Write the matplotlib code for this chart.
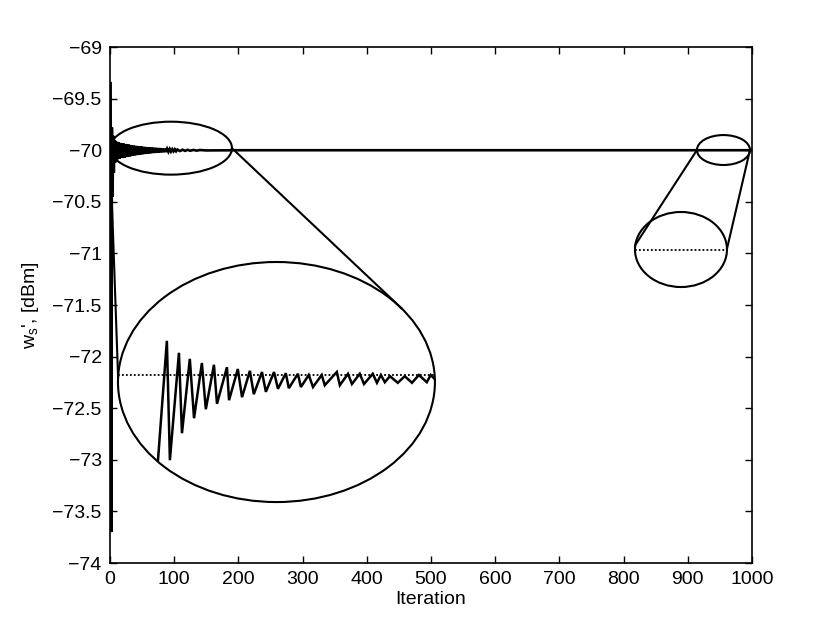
import numpy as np
import matplotlib.pyplot as plt
import matplotlib as mpl
from matplotlib.patches import Ellipse

mpl.rcParams['font.family'] = ['Liberation Sans', 'DejaVu Sans']
mpl.rcParams['xtick.direction'] = 'in'
mpl.rcParams['ytick.direction'] = 'in'
fontsize = 14
mpl.rcParams['font.size'] = fontsize
mpl.rcParams['axes.labelsize'] = fontsize
mpl.rcParams['xtick.labelsize'] = fontsize
mpl.rcParams['ytick.labelsize'] = fontsize

# main curve (turning points)
iters = [1, 2, 3, 4, 5, 6, 7, 8,
         9, 11, 13, 15, 17, 19, 21, 23, 25, 27, 29, 31, 33, 35, 37, 39,
         41, 43, 45, 47, 49, 51, 53, 55, 57, 59, 61, 63, 65, 67, 69, 71,
         73, 75, 77, 79, 81, 83, 85, 87, 89, 91, 93, 95, 97, 99, 101, 103,
         105, 109, 113, 117, 121, 125, 130, 135, 140, 150, 200, 1000]
ws = [-69.35, -73.70, -69.78, -70.45, -69.86, -70.22, -69.90, -70.12,
      -69.91, -70.09, -69.92, -70.08, -69.93, -70.075, -69.935, -70.07,
      -69.94, -70.065, -69.945, -70.06, -69.95, -70.055, -69.955, -70.05,
      -69.958, -70.046, -69.961, -70.042, -69.964, -70.039, -69.967, -70.036,
      -69.97, -70.033, -69.972, -70.03, -69.974, -70.027, -69.976, -70.025,
      -69.978, -70.023, -69.98, -70.021, -69.982, -70.019, -69.984, -70.017,
      -69.986, -70.015, -69.988, -70.013, -69.99, -70.011, -69.991, -70.01,
      -69.993, -70.008, -69.995, -70.006, -69.996, -70.005, -69.997, -70.004,
      -69.998, -70.002, -70.0, -70.0]
target = -70.0

# magnified view shown in the big left ellipse
zoom_iters = [12, 16.2, 17.2, 20.2, 21.2, 23.8, 25.2, 27.8, 29.1, 31.8,
              32.8, 36.1, 36.8, 39.7, 41.1, 43.7, 45.0, 47.7, 49.0, 51.7,
              53.0, 55.6, 56.6, 59.6, 60.6, 63.2, 64.6, 67.5, 68.5, 72.5,
              73.5, 76.2, 77.5, 80.1, 81.5, 84.4, 85.8, 87.1, 88.4, 90.1,
              92.7, 95.0, 97.4, 99.7, 102.3, 103.6, 105.0]
zoom_ws = [-70.227, -69.943, -70.142, -69.963, -70.097, -69.973, -70.072, -69.98, -70.057, -69.983,
           -70.048, -69.987, -70.042, -69.99, -70.037, -69.993, -70.032, -69.995, -70.028, -69.995,
           -70.023, -69.997, -70.022, -69.998, -70.02, -70.0, -70.02, -70.0, -70.017, -69.995,
           -70.017, -69.998, -70.015, -69.998, -70.015, -69.998, -70.013, -70.0, -70.012, -70.002,
           -70.013, -70.002, -70.013, -70.0, -70.012, -70.0, -70.007]

# ellipses: (center x, center y, width, height) in data units
small_l = (95.0, -69.98, 190.0, 0.513)
big_l = (259.3, -72.246, 493.7, 2.326)
small_r = (955.6, -69.998, 82.6, 0.29)
big_r = (889.4, -70.962, 143.3, 0.727)


def ell_pt(e, deg):
    t = np.deg2rad(deg)
    return e[0] + e[2] / 2 * np.cos(t), e[1] + e[3] / 2 * np.sin(t)


def fmt(v, pos):
    return ('%g' % v).replace('-', '\u2212')


fig = plt.figure(figsize=(8.3, 6.27), dpi=100)
ax = fig.add_axes([0.1325, 0.102, 0.7735, 0.823])

ax.plot(iters, ws, color='k', lw=1.9, solid_joinstyle='miter')

ell_lw = 1.5
for e in (small_l, big_l, small_r, big_r):
    ax.add_patch(Ellipse((e[0], e[1]), e[2], e[3], fill=False, ec='k', lw=ell_lw, zorder=4))

# connector lines between the ellipses
for e1, a1, e2, a2 in [(small_l, 180, big_l, 177.7), (small_l, 0, big_l, 38),
                       (small_r, 180, big_r, 173), (small_r, 0, big_r, 1)]:
    p1 = ell_pt(e1, a1)
    p2 = ell_pt(e2, a2)
    ax.plot([p1[0], p2[0]], [p1[1], p2[1]], color='k', lw=ell_lw, zorder=4)

# left zoom
ins = ax.inset_axes([big_l[0] - big_l[2] / 2, big_l[1] - big_l[3] / 2, big_l[2], big_l[3]],
                    transform=ax.transData)
ins.axis('off')
ins.patch.set_alpha(0)
ins.set_xlim(0, 105)
ins.set_ylim(-70.2117, -69.8117)
clip = Ellipse((0.5, 0.5), 1, 1, transform=ins.transAxes)
l1 = ins.axhline(target, color='k', lw=1.3, linestyle=(0, (1, 1.2)))
l2, = ins.plot(zoom_iters, zoom_ws, color='k', lw=1.8, solid_joinstyle='miter')
for ln in (l1, l2):
    ln.set_clip_path(clip)

# right zoom
ins2 = ax.inset_axes([big_r[0] - big_r[2] / 2, big_r[1] - big_r[3] / 2, big_r[2], big_r[3]],
                     transform=ax.transData)
ins2.axis('off')
ins2.patch.set_alpha(0)
ins2.set_ylim(target - 0.5, target + 0.5)
clip2 = Ellipse((0.5, 0.5), 1, 1, transform=ins2.transAxes)
l3 = ins2.axhline(target, color='k', lw=1.3, linestyle=(0, (1, 1.2)))
l3.set_clip_path(clip2)

ax.set_xlim(0, 1000)
ax.set_ylim(-74, -69)
ax.set_xticks(np.arange(0, 1001, 100))
ax.set_yticks(np.arange(-74, -68.9, 0.5))
ax.yaxis.set_major_formatter(mpl.ticker.FuncFormatter(fmt))
ax.tick_params(top=True, right=True, length=5, width=1, pad=6)
for s in ax.spines.values():
    s.set_linewidth(1.2)

ax.set_xlabel('Iteration', labelpad=2)
ax.set_ylabel(r"w$_\mathregular{s}$', [dBm]", labelpad=8)

fig.savefig('out.png', dpi=100)
